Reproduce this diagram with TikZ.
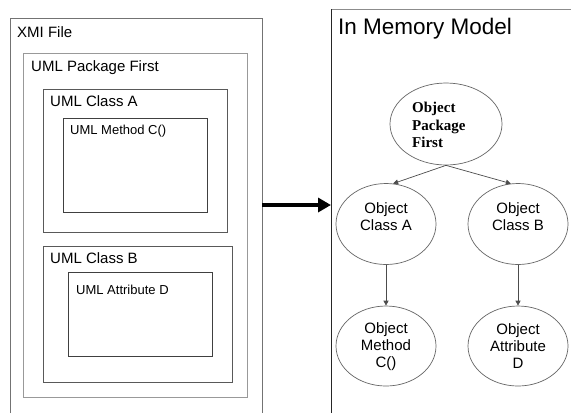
\documentclass[tikz,border=0pt]{standalone}
\usepackage{fontspec}
\setmainfont{Liberation Sans}
\newfontfamily\timesfont{Liberation Serif}
\usetikzlibrary{arrows.meta,shapes.geometric}

\tikzset{
  frame/.style={draw=black!55, line width=0.8bp},
  box/.style={draw=#1, line width=0.8bp, anchor=north west, inner sep=0pt},
  box/.default={black!65},
  boxlabel/.style={anchor=base west, inner sep=0pt, font=\fontsize{15bp}{18bp}\selectfont},
  smalllabel/.style={anchor=base west, inner sep=0pt, font=\fontsize{13bp}{16bp}\selectfont},
  obj/.style={ellipse, draw=black!60, line width=0.7bp, inner sep=0pt,
              minimum width=100bp, minimum height=81bp},
  objtext/.style={align=center, inner sep=0pt, font=\fontsize{15bp}{17bp}\selectfont},
  link/.style={draw=black!70, line width=0.7bp, -{Triangle[length=5bp,width=5bp]}},
  bigarrow/.style={line width=4bp, -{Triangle[length=13bp,width=14bp]}}
}

\begin{document}
\begin{tikzpicture}[x=1bp,y=-1bp]
\useasboundingbox[fill=white] (0,0) rectangle (571,413);

% ---- XMI file (left side) ----
\draw[frame] (10,413) -- (10,18) -- (262,18) -- (262,413);
\node[boxlabel] (xmilbl) at (17,37) {XMI File};

\node[box=black!40, minimum width=224bp, minimum height=344bp] (pkg) at (23,53) {};
\node[boxlabel] (pkglbl) at (31,71) {UML Package First};

\node[box, minimum width=184bp, minimum height=143bp] (clsA) at (43,89) {};
\node[boxlabel] (clsAlbl) at (50,106) {UML Class A};

\node[box=black!75, minimum width=144bp, minimum height=94bp] (meth) at (63,118) {};
\node[smalllabel] (methlbl) at (70,134) {UML Method C()};

\node[box, minimum width=189bp, minimum height=136bp] (clsB) at (43,246) {};
\node[boxlabel] (clsBlbl) at (50,263) {UML Class B};

\node[box=black!75, minimum width=144bp, minimum height=84bp] (attr) at (68,272) {};
\node[smalllabel] (attrlbl) at (76,294) {UML Attribute D};

% ---- in-memory model (right side) ----
\draw[draw=black!45, line width=0.8bp] (571,9) -- (331,9);
\draw[draw=black!85, line width=0.8bp] (331,9) -- (331,413);
\node[anchor=base west, inner sep=0pt, font=\fontsize{22.5bp}{26bp}\selectfont] (memlbl) at (338,34) {In Memory Model};

\node[obj, minimum width=112bp, minimum height=82bp] (opkg) at (446,124) {};
\node[anchor=north west, align=left, inner sep=0pt,
      font=\timesfont\bfseries\fontsize{15bp}{17.5bp}\selectfont] (opkgtxt) at (412,102)
      {Object\\Package\\First};

\node[obj] (oclsA) at (386,224) {};
\node[objtext] (oclsAtxt) at (386,217) {Object\\Class A};

\node[obj] (oclsB) at (518,224) {};
\node[objtext] (oclsBtxt) at (518,217) {Object\\Class B};

\node[obj, minimum height=80bp] (ometh) at (386,346) {};
\node[objtext] (omethtxt) at (386,347) {Object\\Method\\C()};

\node[obj, minimum height=80bp] (oattr) at (518,346) {};
\node[objtext] (oattrtxt) at (518,346) {Object\\Attribute\\D};

\draw[link] (opkg.south) -- (oclsA.80);
\draw[link] (opkg.south) -- (oclsB.100);
\draw[link] (oclsA.south) -- (ometh.north);
\draw[link] (oclsB.south) -- (oattr.north);

% ---- transformation arrow ----
\coordinate (xmiR) at (262,205);
\coordinate (memL) at (331,205);
\draw[bigarrow] (xmiR) -- (memL);
\end{tikzpicture}
\end{document}
